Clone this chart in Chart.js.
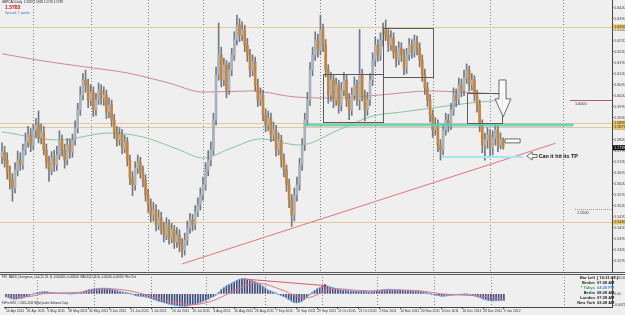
<!DOCTYPE html>
<html>
<head>
<meta charset="utf-8">
<script src="https://cdn.jsdelivr.net/npm/chart.js@4.4.0/dist/chart.umd.min.js"></script>
<style>
  html, body { margin: 0; padding: 0; background: #efefef; }
  #wrap { position: relative; width: 625px; height: 315px; overflow: hidden; background: #efefef;
          font-family: 'Liberation Sans Narrow', 'Liberation Sans', Arial, sans-serif; }
  canvas { position: absolute; left: 0; }
  #main { top: 0; width: 625px; height: 272px; }
  #macd { top: 273px; width: 625px; height: 42px; }
  .t { position: absolute; white-space: nowrap; line-height: 1; color: #222; }
  .sep { position: absolute; left: 0; width: 625px; height: 1px; background: #5a5a5a; }
  .info { position: absolute; right: 0; top: 275px; width: 60px; }
  .info div { position: relative; height: 5px; font-size: 4px; font-weight: bold; line-height: 5px; color: #222; }
  .info .k { position: absolute; right: 30px; }
  .info .v { position: absolute; left: 32px; }
</style>
</head>
<body>
<div id="wrap">
  <canvas id="main" width="625" height="272"></canvas>
  <canvas id="macd" width="625" height="42"></canvas>
  <div class="sep" style="top:272px"></div>
  <div class="sep" style="top:274px"></div>

  <div class="t" style="left:2px;top:1px;font-size:3px">GBPCAD,Daily&nbsp; 1.5819 1.5828 1.5776 1.5783</div>
  <div class="t" style="left:5px;top:5px;font-size:5px;font-weight:bold;color:#d01010;font-family:'Liberation Sans',Arial">1.5783</div>
  <div class="t" style="left:5px;top:12px;font-size:3.4px;color:#3d7cc9">Spread: 7 points</div>

  <div class="t" style="left:2px;top:276px;font-size:2.8px">FX5_MACD_Divergence_v1.1(12, 26, 9) -0.004200 -0.003500&nbsp; MACD(12,26,9) -0.00420 -0.00350&nbsp; Pile Clrd</div>
  <div class="t" style="left:2px;top:302px;font-size:2.8px">FxPro MT4, © 2001-2011 MetaQuotes Software Corp.</div>

  <div class="info">
    <div><span class="k">Bar Left</span><span class="v">[ 16:31:07 ]</span></div>
    <div><span class="k">Broker</span><span class="v">07:28 AM</span></div>
    <div><span class="k" style="color:#2f9e3a">* Tokyo</span><span class="v" style="color:#4a8fd8">04:28 PM</span></div>
    <div><span class="k">Berlin</span><span class="v">08:28 AM</span></div>
    <div><span class="k">London</span><span class="v">07:28 AM</span></div>
    <div><span class="k">New York</span><span class="v">02:28 AM</span></div>
  </div>
</div>

<script>
// ---- daily bars, GBPCAD, 14 Apr 2011 .. 9 Jan 2012 (open = previous close)
const firstOpen = 1.5740;
const closes = [
  1.5764,1.5727,1.5673,1.5636,1.5600,1.5682,1.5727,1.5705,1.5773,1.5809,
  1.5841,1.5795,1.5864,1.5886,1.5827,1.5855,1.5773,1.5718,1.5682,1.5736,
  1.5705,1.5750,1.5818,1.5773,1.5727,1.5795,1.5764,1.5818,1.5873,1.5955,
  1.6023,1.6091,1.6068,1.6000,1.6036,1.5955,1.6000,1.6045,1.6009,1.6023,
  1.5945,1.5977,1.5909,1.5855,1.5818,1.5841,1.5782,1.5809,1.5727,1.5645,
  1.5614,1.5691,1.5718,1.5673,1.5636,1.5568,1.5523,1.5477,1.5500,1.5432,
  1.5464,1.5418,1.5386,1.5432,1.5373,1.5409,1.5355,1.5386,1.5341,1.5318,
  1.5364,1.5418,1.5455,1.5432,1.5491,1.5523,1.5568,1.5614,1.5682,1.5727,
  1.5773,1.5909,1.6114,1.6205,1.6091,1.6159,1.6045,1.6136,1.6205,1.6273,
  1.6341,1.6295,1.6318,1.6250,1.6205,1.6136,1.6173,1.6068,1.6000,1.6023,
  1.5932,1.5886,1.5918,1.5841,1.5864,1.5773,1.5818,1.5727,1.5682,1.5614,
  1.5545,1.5477,1.5568,1.5614,1.5705,1.5795,1.5909,1.6000,1.6136,1.6205,
  1.6273,1.6227,1.6318,1.6250,1.6136,1.6023,1.6091,1.6000,1.6068,1.5977,
  1.6045,1.6091,1.6000,1.5955,1.6023,1.6068,1.6000,1.6114,1.6023,1.5955,
  1.6000,1.6091,1.6182,1.6250,1.6205,1.6273,1.6318,1.6295,1.6250,1.6282,
  1.6218,1.6182,1.6236,1.6205,1.6145,1.6205,1.6250,1.6218,1.6264,1.6236,
  1.6182,1.6114,1.6055,1.6000,1.5932,1.5864,1.5886,1.5795,1.5773,1.5864,
  1.5909,1.5886,1.5955,1.6023,1.6000,1.6068,1.6045,1.6100,1.6136,1.6068,
  1.6091,1.6023,1.5977,1.5886,1.5795,1.5818,1.5841,1.5782,1.5827,1.5864,
  1.5795,1.5819,1.5783
];
const highs = [
  1.5805,1.5790,1.5760,1.5700,1.5665,1.5715,1.5768,1.5760,1.5800,1.5850,
  1.5880,1.5870,1.5890,1.5915,1.5950,1.5890,1.5880,1.5800,1.5745,1.5765,
  1.5772,1.5790,1.5860,1.5840,1.5800,1.5825,1.5822,1.5845,1.5905,1.5985,
  1.6060,1.6120,1.6136,1.6095,1.6070,1.6060,1.6030,1.6077,1.6070,1.6060,
  1.6045,1.6010,1.6000,1.5935,1.5880,1.5875,1.5865,1.5840,1.5830,1.5750,
  1.5675,1.5720,1.5750,1.5740,1.5700,1.5660,1.5595,1.5550,1.5535,1.5525,
  1.5500,1.5490,1.5445,1.5465,1.5455,1.5440,1.5430,1.5420,1.5410,1.5370,
  1.5395,1.5450,1.5485,1.5480,1.5520,1.5555,1.5600,1.5650,1.5715,1.5770,
  1.5810,1.5940,1.6150,1.6350,1.6240,1.6190,1.6180,1.6170,1.6235,1.6310,
  1.6386,1.6370,1.6355,1.6340,1.6280,1.6230,1.6205,1.6195,1.6095,1.6055,
  1.6045,1.5960,1.5950,1.5940,1.5900,1.5885,1.5850,1.5840,1.5755,1.5705,
  1.5640,1.5570,1.5600,1.5650,1.5735,1.5825,1.5940,1.6035,1.6170,1.6240,
  1.6310,1.6300,1.6386,1.6345,1.6275,1.6160,1.6125,1.6115,1.6100,1.6090,
  1.6080,1.6125,1.6115,1.6030,1.6055,1.6105,1.6090,1.6320,1.6140,1.6045,
  1.6035,1.6120,1.6215,1.6285,1.6275,1.6305,1.6350,1.6364,1.6320,1.6315,
  1.6305,1.6245,1.6265,1.6260,1.6230,1.6235,1.6280,1.6275,1.6295,1.6290,
  1.6260,1.6205,1.6140,1.6080,1.6025,1.5955,1.5920,1.5910,1.5820,1.5890,
  1.5940,1.5935,1.5985,1.6055,1.6050,1.6100,1.6095,1.6135,1.6164,1.6155,
  1.6120,1.6110,1.6045,1.6000,1.5910,1.5850,1.5875,1.5865,1.5860,1.5890,
  1.5885,1.5850,1.5828
];
const lows = [
  1.5710,1.5695,1.5640,1.5595,1.5540,1.5578,1.5655,1.5680,1.5685,1.5750,
  1.5785,1.5765,1.5775,1.5830,1.5805,1.5800,1.5750,1.5690,1.5630,1.5660,
  1.5675,1.5680,1.5730,1.5745,1.5690,1.5705,1.5735,1.5740,1.5795,1.5850,
  1.5930,1.6000,1.6035,1.5965,1.5975,1.5925,1.5930,1.5980,1.5980,1.5975,
  1.5915,1.5920,1.5880,1.5825,1.5790,1.5795,1.5755,1.5760,1.5700,1.5615,
  1.5565,1.5590,1.5665,1.5645,1.5605,1.5540,1.5490,1.5445,1.5450,1.5405,
  1.5410,1.5390,1.5355,1.5365,1.5345,1.5350,1.5325,1.5330,1.5310,1.5285,
  1.5295,1.5340,1.5395,1.5405,1.5410,1.5470,1.5500,1.5545,1.5590,1.5655,
  1.5700,1.5750,1.5885,1.6090,1.6060,1.6065,1.6010,1.6025,1.6110,1.6180,
  1.6250,1.6265,1.6270,1.6220,1.6175,1.6105,1.6110,1.6040,1.5970,1.5975,
  1.5905,1.5855,1.5860,1.5810,1.5815,1.5745,1.5750,1.5695,1.5650,1.5585,
  1.5510,1.5425,1.5450,1.5540,1.5590,1.5680,1.5770,1.5885,1.5975,1.6110,
  1.6180,1.6195,1.6205,1.6220,1.6105,1.5985,1.5995,1.5965,1.5975,1.5940,
  1.5950,1.6020,1.5970,1.5910,1.5930,1.6000,1.5975,1.5955,1.5995,1.5905,
  1.5930,1.5975,1.6065,1.6155,1.6175,1.6180,1.6245,1.6270,1.6220,1.6225,
  1.6190,1.6150,1.6160,1.6175,1.6115,1.6120,1.6180,1.6190,1.6195,1.6205,
  1.6150,1.6085,1.6025,1.5970,1.5900,1.5830,1.5840,1.5765,1.5727,1.5750,
  1.5840,1.5855,1.5865,1.5930,1.5970,1.5980,1.6015,1.6020,1.6075,1.6040,
  1.6045,1.5995,1.5945,1.5855,1.5760,1.5727,1.5780,1.5740,1.5750,1.5795,
  1.5765,1.5778,1.5776
];

// moving averages read at a few bars
const slowMaBars = [0, 16, 32, 48, 64, 77, 96, 112, 128, 145, 164, 176, 192];
const slowMaVals = [1.6210, 1.6177, 1.6150, 1.6123, 1.6077, 1.6036, 1.6041, 1.6014, 1.6009, 1.6023, 1.6041, 1.6036, 1.6027];
const fastMaBars = [0, 22, 41, 54, 68, 77, 88, 99, 114, 129, 142, 153, 165, 179, 192];
const fastMaVals = [1.5855, 1.5818, 1.5850, 1.5832, 1.5773, 1.5736, 1.5782, 1.5823, 1.5795, 1.5864, 1.5927, 1.5945, 1.5964, 1.5986, 1.6000];

// MACD(12,26,9) main value per bar, in 0.0001 units
const macdPips = [
  -18,-24,-30,-33,-33,-30,-27,-24,-18,
  -9,-3,2,6,10,12,13,12,9,6,5,3,2,2,2,1,0,1,2,5,
  9,15,21,26,29,32,33,35,36,36,35,32,29,
  24,19,14,11,7,5,1,-5,-11,
  -13,-14,-17,-19,-24,-30,
  -36,-41,-47,-51,-56,-61,-65,-69,-72,-75,-77,-78,-78,-77,
  -73,-69,-65,-60,-54,-48,-41,-33,-25,-18,-7,
  9,27,39,51,59,68,77,86,93,96,
  96,93,89,83,77,69,60,48,36,24,
  18,11,5,-3,-9,-17,-25,-35,-45,-54,-57,-55,
  -48,-36,-21,-6,9,21,32,39,
  51,53,49,44,39,35,31,
  26,24,23,20,18,17,17,16,17,16,13,12,13,17,
  20,23,25,28,29,29,28,27,25,24,23,20,19,19,
  18,17,17,15,12,8,4,-1,-5,-8,-12,-15,
  -14,-12,-10,-8,-6,-5,-3,-2,-1,-2,-5,-9,-14,-19,-25,-32,-37,-41,-43,-44,-43,-43,-42,-42
];
const signalBars = [0, 8, 16, 24, 32, 40, 48, 56, 64, 72, 80, 88, 92, 96, 100, 104, 108, 112, 116, 120, 124, 128, 136, 144, 152, 160, 168, 176, 184, 192];
const signalPips = [-12, -18, 5, 7, 15, 32, 18, -15, -51, -69, -42, 20, 50, 70, 62, 40, 15, -15, -25, -5, 25, 32, 22, 19, 25, 19, 0, -8, -15, -35];
const divergenceBars = [91, 123];

// axis labels
const priceTickLabels = ['1.6420','1.6370','1.6320','1.6270','1.6220','1.6170','1.6120','1.6070','1.6020','1.5970','1.5920','1.5870',
  '1.5820','1.5770','1.5720','1.5670','1.5620','1.5570','1.5520','1.5470','1.5420','1.5370','1.5320','1.5270'];
const dateTicks = ['14 Apr 2011','26 Apr 2011','6 May 2011','18 May 2011','30 May 2011','9 Jun 2011','21 Jun 2011','1 Jul 2011',
  '13 Jul 2011','25 Jul 2011','4 Aug 2011','16 Aug 2011','26 Aug 2011','7 Sep 2011','19 Sep 2011','29 Sep 2011','11 Oct 2011',
  '21 Oct 2011','2 Nov 2011','14 Nov 2011','24 Nov 2011','6 Dec 2011','16 Dec 2011','28 Dec 2011','9 Jan 2012'];
const macdTickVals = [0.0102, 0, -0.0072];

// drawn objects (bar index / price)
const levelLines = [1.6332, 1.5895, 1.5877, 1.5445];
const bidPrice = 1.5783;
const boxes = [[123, 146, 1.6118, 1.5900], [146, 165, 1.6327, 1.6105], [178.2, 191.6, 1.6032, 1.5895]];
const trendLine = [[69, 1.5255], [212, 1.5803]];

// ---- calendar
const monNames = ['Jan','Feb','Mar','Apr','May','Jun','Jul','Aug','Sep','Oct','Nov','Dec'];
const barDates = [];
for (let d = new Date(2011, 3, 14); barDates.length < closes.length; d.setDate(d.getDate() + 1)) {
  if (d.getDay() !== 0 && d.getDay() !== 6) barDates.push(new Date(d));
}
const barLabels = barDates.map(d => d.getDate() + ' ' + monNames[d.getMonth()] + ' ' + d.getFullYear());
const dateTickIdx = dateTicks.map(l => barLabels.indexOf(l));
const gridIdx = barDates.map((d, i) => (i > 0 && d.getMonth() !== barDates[i - 1].getMonth()) ? i : -1).filter(i => i >= 0);
gridIdx.push(215);

const opens = closes.map((c, i) => i === 0 ? firstOpen : closes[i - 1]);

// MT4 view: 2.61 px per bar, chart shifted to the left
const xMin = -0.766, xMax = 233.7;
const yMax = 1.64545, yMin = 1.52181;
const macdMin = -0.0084, macdMax = 0.0108;

Chart.defaults.font.family = "'Liberation Sans Narrow','Liberation Sans',Arial,sans-serif";
Chart.defaults.color = '#222';

const UP = '#a9b1bb', DOWN = '#c6843a', WICK = '#727982';

function monthGrid(chart) {
  const { ctx, chartArea: a, scales: { x } } = chart;
  ctx.save();
  ctx.strokeStyle = '#808080';
  ctx.lineWidth = 1;
  ctx.setLineDash([1, 2]);
  gridIdx.forEach(i => {
    const px = Math.round(x.getPixelForValue(i)) + 0.5;
    ctx.beginPath(); ctx.moveTo(px, a.top); ctx.lineTo(px, a.bottom); ctx.stroke();
  });
  ctx.restore();
}

function poly(ctx, x, y, pts, fill, stroke) {
  ctx.beginPath();
  pts.forEach((p, k) => {
    const px = x.getPixelForValue(p[0]), py = y.getPixelForValue(p[1]);
    k ? ctx.lineTo(px, py) : ctx.moveTo(px, py);
  });
  ctx.closePath();
  if (fill) { ctx.fillStyle = fill; ctx.fill(); }
  ctx.strokeStyle = stroke; ctx.lineWidth = 1; ctx.stroke();
}

const mainOverlay = {
  id: 'mainOverlay',
  beforeDatasetsDraw(chart) {
    const { ctx, chartArea: a, scales: { x, y } } = chart;
    monthGrid(chart);
    ctx.save();
    ctx.strokeStyle = '#e3c89f';
    ctx.lineWidth = 1;
    levelLines.forEach(v => {
      const py = Math.round(y.getPixelForValue(v)) + 0.5;
      ctx.beginPath(); ctx.moveTo(a.left, py); ctx.lineTo(a.right, py); ctx.stroke();
    });
    // 1.6000 and 1.5500 marks at the right
    let py = Math.round(y.getPixelForValue(1.6)) + 0.5;
    ctx.strokeStyle = '#b55a66';
    ctx.beginPath(); ctx.moveTo(x.getPixelForValue(217.6), py); ctx.lineTo(a.right, py); ctx.stroke();
    py = Math.round(y.getPixelForValue(1.5505)) + 0.5;
    ctx.strokeStyle = '#9a9a9a'; ctx.setLineDash([1, 1]);
    ctx.beginPath(); ctx.moveTo(x.getPixelForValue(219.5), py); ctx.lineTo(a.right, py); ctx.stroke();
    ctx.setLineDash([]);
    ctx.fillStyle = '#333';
    ctx.font = "3.8px 'Liberation Sans Narrow','Liberation Sans',Arial";
    ctx.textBaseline = 'top';
    ctx.fillText('1.6000', x.getPixelForValue(219.5), y.getPixelForValue(1.5990));
    ctx.fillText('1.5500', x.getPixelForValue(220.3), y.getPixelForValue(1.5493));
    ctx.restore();
  },
  afterDatasetsDraw(chart) {
    const { ctx, scales: { x, y } } = chart;
    ctx.save();
    // support band and target line
    const bx0 = x.getPixelForValue(116), bx1 = x.getPixelForValue(219);
    const by0 = y.getPixelForValue(1.5893), by1 = y.getPixelForValue(1.58795);
    ctx.fillStyle = 'rgba(92,204,182,0.85)';
    ctx.fillRect(bx0, by0, bx1 - bx0, by1 - by0);
    ctx.strokeStyle = '#a3e6ee'; ctx.lineWidth = 2;
    const ty = y.getPixelForValue(1.5741);
    ctx.beginPath(); ctx.moveTo(x.getPixelForValue(168.6), ty); ctx.lineTo(x.getPixelForValue(199.6), ty); ctx.stroke();
    // boxes
    ctx.lineWidth = 1; ctx.strokeStyle = '#5b5b5b';
    boxes.forEach(b => {
      const l = Math.round(x.getPixelForValue(b[0])) + 0.5, r = Math.round(x.getPixelForValue(b[1])) + 0.5;
      const t = Math.round(y.getPixelForValue(b[2])) + 0.5, bt = Math.round(y.getPixelForValue(b[3])) + 0.5;
      ctx.strokeRect(l, t, r - l, bt - t);
    });
    // down arrow
    poly(ctx, x, y, [[190.4, 1.6091], [193.1, 1.6091], [193.1, 1.6005], [195.0, 1.6005], [192.0, 1.5923],
      [188.9, 1.6005], [190.4, 1.6005]], 'rgba(250,250,250,0.9)', '#6a6a6a');
    // small rectangle
    poly(ctx, x, y, [[192.7, 1.5823], [198.5, 1.5823], [198.5, 1.5805], [192.7, 1.5805]], '#fafafa', '#6a6a6a');
    // left arrow + note
    poly(ctx, x, y, [[201.1, 1.5745], [203.1, 1.5764], [203.1, 1.5752], [205.0, 1.5752], [205.0, 1.5739],
      [203.1, 1.5739], [203.1, 1.5727]], '#fafafa', '#6a6a6a');
    ctx.fillStyle = '#111';
    ctx.font = "bold 5.4px 'Liberation Sans',Arial";
    ctx.textBaseline = 'middle';
    ctx.fillText('Can it hit its TP', x.getPixelForValue(205.6), y.getPixelForValue(1.5745));
    ctx.restore();
  },
  afterDraw(chart) {
    const { ctx, chartArea: a, scales: { y } } = chart;
    ctx.save();
    ctx.font = "3.8px 'Liberation Sans Narrow','Liberation Sans',Arial";
    ctx.textBaseline = 'middle';
    const tag = (v, bg, fg) => {
      const py = y.getPixelForValue(v);
      ctx.fillStyle = bg; ctx.fillRect(a.right + 1, py - 2.5, 12, 5);
      ctx.fillStyle = fg; ctx.fillText(v.toFixed(4), a.right + 2, py);
    };
    levelLines.forEach(v => tag(v, '#e9c46c', '#3a3020'));
    tag(bidPrice, '#000', '#fff');
    ctx.restore();
  }
};

const candleData = closes.map((c, i) => ({ x: i, o: opens[i], c }));

new Chart(document.getElementById('main'), {
  type: 'bar',
  data: {
    datasets: [
      { type: 'line', data: slowMaBars.map((b, k) => ({ x: b, y: slowMaVals[k] })), borderColor: '#cf8893', borderWidth: 1,
        pointRadius: 0, cubicInterpolationMode: 'monotone', order: 5 },
      { type: 'line', data: fastMaBars.map((b, k) => ({ x: b, y: fastMaVals[k] })), borderColor: '#86c59b', borderWidth: 1,
        pointRadius: 0, cubicInterpolationMode: 'monotone', order: 4 },
      { type: 'bar', data: closes.map((c, i) => ({ x: i, y: [lows[i], highs[i]] })), backgroundColor: WICK,
        barThickness: 1, grouped: false, order: 3 },
      { type: 'bar', data: candleData.map(d => ({ x: d.x, y: [d.o, d.c] })),
        backgroundColor: candleData.map(d => d.c >= d.o ? UP : DOWN), barThickness: 2, grouped: false, order: 2 },
      { type: 'line', data: trendLine.map(p => ({ x: p[0], y: p[1] })), borderColor: '#e0737f', borderWidth: 1,
        pointRadius: 0, order: 1 }
    ]
  },
  options: {
    responsive: false, animation: false, maintainAspectRatio: false,
    layout: { padding: 0 },
    plugins: { legend: { display: false }, tooltip: { enabled: false } },
    scales: {
      x: { type: 'linear', min: xMin, max: xMax, offset: false, display: false, grid: { offset: false } },
      y: {
        position: 'right', min: yMin, max: yMax,
        afterBuildTicks: s => { s.ticks = priceTickLabels.map(l => ({ value: parseFloat(l) })); },
        afterFit: s => { s.width = 13; s.paddingTop = 0; s.paddingBottom = 0; },
        ticks: { font: { size: 3.8 }, color: '#333', padding: 0.5, callback: v => v.toFixed(4) },
        grid: { drawOnChartArea: false, tickLength: 1.5, color: '#444' },
        border: { color: '#444' }
      }
    }
  },
  plugins: [mainOverlay]
});

const macdOverlay = { id: 'macdOverlay', beforeDatasetsDraw: monthGrid };

new Chart(document.getElementById('macd'), {
  type: 'bar',
  data: {
    datasets: [
      { type: 'bar', data: macdPips.map((v, i) => ({ x: i, y: v / 10000 })), backgroundColor: '#3e4b7c',
        barThickness: 1, grouped: false, order: 4 },
      { type: 'line', data: macdPips.map((v, i) => ({ x: i, y: v / 10000 })), borderColor: '#74aee6', borderWidth: 1,
        pointRadius: 0, order: 3 },
      { type: 'line', data: signalBars.map((b, k) => ({ x: b, y: signalPips[k] / 10000 })), borderColor: '#e27482',
        borderWidth: 1, pointRadius: 0, cubicInterpolationMode: 'monotone', order: 2 },
      { type: 'line', data: divergenceBars.map(b => ({ x: b, y: macdPips[b] / 10000 })), borderColor: '#de5a68',
        borderWidth: 1, pointRadius: [0, 1.5], pointBackgroundColor: '#d83040', pointBorderWidth: 0, order: 1 }
    ]
  },
  options: {
    responsive: false, animation: false, maintainAspectRatio: false,
    layout: { padding: { top: 2, left: 0, right: 0, bottom: 0 } },
    plugins: { legend: { display: false }, tooltip: { enabled: false } },
    scales: {
      x: {
        type: 'linear', min: xMin, max: xMax, offset: false, position: 'bottom',
        afterBuildTicks: s => { s.ticks = dateTickIdx.map(i => ({ value: i })); },
        afterFit: s => { s.height = 8; s.paddingLeft = 0; s.paddingRight = 0; },
        ticks: { font: { size: 3.4 }, color: '#333', padding: 0.5, align: 'start', autoSkip: false, maxRotation: 0,
          callback: v => barLabels[v] || '' },
        grid: { drawOnChartArea: false, tickLength: 2, color: '#444', offset: false },
        border: { color: '#444' }
      },
      y: {
        position: 'right', min: macdMin, max: macdMax,
        afterBuildTicks: s => { s.ticks = macdTickVals.map(v => ({ value: v })); },
        afterFit: s => { s.width = 13; s.paddingTop = 0; s.paddingBottom = 0; },
        ticks: { font: { size: 3.4 }, color: '#333', padding: 0.5, callback: v => v === 0 ? '0.00' : v.toFixed(6) },
        grid: { drawOnChartArea: false, tickLength: 1.5, color: '#444' },
        border: { color: '#444' }
      }
    }
  },
  plugins: [macdOverlay]
});
</script>
</body>
</html>
